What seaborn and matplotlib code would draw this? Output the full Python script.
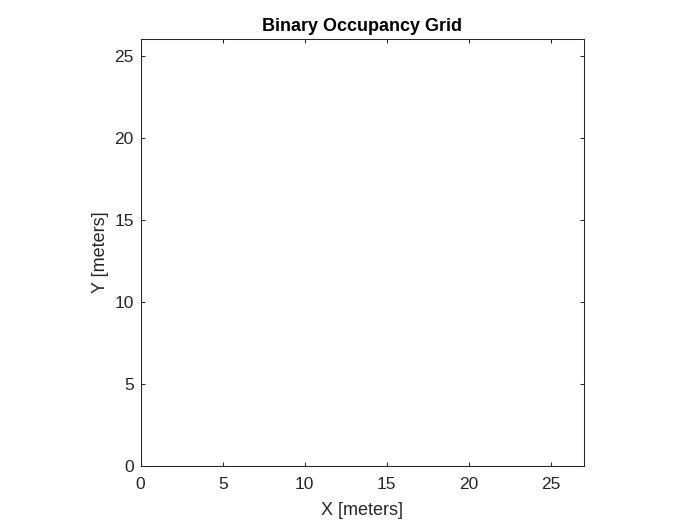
import matplotlib
matplotlib.use("Agg")
import matplotlib.pyplot as plt
import numpy as np
import seaborn as sns

# empty binary occupancy map: 27 m x 26 m at 1 cell per meter, all free
map_width = 27
map_height = 26
occupancy = np.zeros((map_height, map_width))

x_ticks = [0, 5, 10, 15, 20, 25]
y_ticks = [0, 5, 10, 15, 20, 25]

sns.set_style("white")
plt.rcParams["font.family"] = ["Liberation Sans", "DejaVu Sans"]

fig = plt.figure(figsize=(7, 5.25), dpi=100)
ax = fig.add_axes([0.2, 0.1124, 0.6347, 0.8126])

sns.heatmap(occupancy, cmap="gray_r", vmin=0, vmax=1, cbar=False, ax=ax,
            xticklabels=False, yticklabels=False)
ax.set_xlim(0, map_width)
ax.set_ylim(0, map_height)
ax.set_aspect("equal")
ax.set_axisbelow(False)  # keep inward ticks above the mesh

for side in ["left", "right", "top", "bottom"]:
    ax.spines[side].set_visible(True)
    ax.spines[side].set_color("#262626")
    ax.spines[side].set_linewidth(0.75)

ax.set_xticks(x_ticks)
ax.set_yticks(y_ticks)
ax.set_xticklabels([str(t) for t in x_ticks])
ax.set_yticklabels([str(t) for t in y_ticks], rotation=0)
ax.tick_params(direction="in", length=3, width=0.75, color="#262626",
               labelsize=12.5, labelcolor="#262626", top=True, right=True,
               bottom=True, left=True)
ax.tick_params(axis="x", pad=8)
ax.tick_params(axis="y", pad=5)

ax.set_xlabel("X [meters]", fontsize=13, color="#262626", labelpad=7)
ax.set_ylabel("Y [meters]", fontsize=13, color="#262626", labelpad=4)
ax.set_title("Binary Occupancy Grid", fontsize=13, fontweight="bold",
             color="black", pad=6)

fig.savefig("out.png", dpi=100)
